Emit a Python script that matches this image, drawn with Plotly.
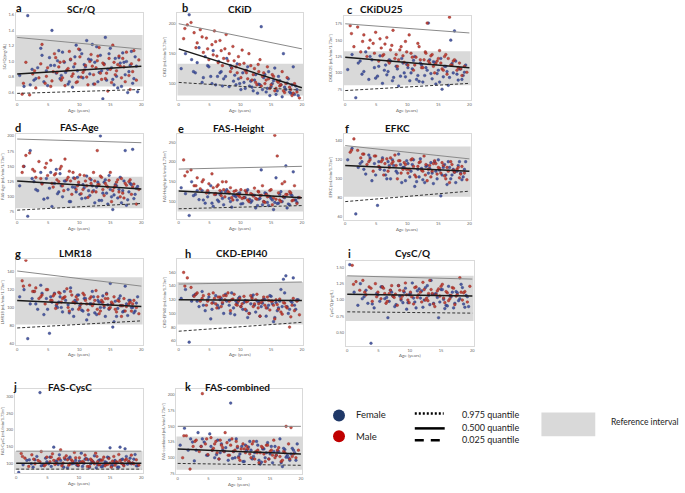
import plotly.graph_objects as go

# ---------------- data ----------------
age_female = [0.4,1.1,1.7,2.1,2.7,3.3,3.8,4.3,4.7,5.2,5.6,6.0,6.5,6.9,7.3,7.8,8.2,8.6,9.1,9.5,
              9.9,10.4,10.8,11.2,11.7,12.1,12.5,13.0,13.4,13.8,14.2,14.6,15.0,15.4,15.8,16.2,16.6,17.0,17.4,17.8,
              18.2,18.6,19.0,19.4,6.3,8.9,11.5,13.6,15.6,17.6,
              2.4,3.0,4.0,4.9,5.4,6.7,7.1,7.6,8.4,9.3,9.7,10.1,10.6,11.0,11.9,12.3,12.8,13.2,14.0,14.4,
              14.8,15.2,16.0,16.4,16.8,17.2,18.0,18.4,18.8,19.2]
age_male = [0.8,1.4,2.0,2.5,3.0,3.5,4.0,4.5,4.9,5.4,5.8,6.2,6.7,7.1,7.5,8.0,8.4,8.8,9.3,9.7,
            10.1,10.6,11.0,11.4,11.9,12.3,12.7,13.2,13.6,14.0,14.4,14.8,15.2,15.6,16.0,16.4,16.8,17.2,17.6,18.0,
            18.4,18.8,19.2,19.6,7.7,10.3,12.9,14.6,16.6,18.2,
            1.0,2.8,3.8,4.7,5.6,6.0,6.4,6.9,7.3,8.2,8.6,9.0,9.5,9.9,10.8,11.2,11.7,12.1,12.5,13.0,
            13.4,13.8,14.2,15.0,15.4,15.8,16.2,17.0,17.4,18.6]

scrq_female = [0.82,0.68,1.59,0.70,0.76,0.92,1.17,0.74,0.88,1.05,1.40,0.95,1.01,0.78,1.12,0.86,0.71,1.02,0.93,1.21,
               0.80,1.10,0.96,1.27,0.84,1.22,0.99,0.74,1.08,0.52,1.31,0.90,1.17,0.77,1.04,0.66,0.98,1.11,0.83,0.60,
               0.95,0.72,1.06,0.61,0.85,0.67,1.03,0.88,0.70,1.00,
               0.90,0.78,1.08,0.69,0.95,1.14,0.82,0.99,0.74,1.06,0.88,1.15,0.79,0.93,1.02,0.71,1.19,0.86,0.97,0.76,
               1.10,0.92,0.81,1.05,0.68,0.99,0.87,1.13,0.78,0.94]
scrq_male = [0.58,0.99,0.57,0.84,0.66,0.79,1.22,0.72,0.92,0.68,0.87,1.05,0.93,0.76,1.00,0.89,1.13,0.81,0.97,0.74,
             1.06,0.86,0.95,0.70,1.09,0.83,0.92,1.18,0.77,0.96,0.85,1.04,0.73,0.99,0.88,1.07,0.79,0.93,1.12,0.82,
             0.97,1.14,0.76,1.02,0.69,0.80,1.01,0.62,0.94,0.64,
             0.72,0.88,0.97,0.81,0.75,1.10,0.86,0.99,0.79,0.91,1.03,0.84,0.73,1.16,0.89,0.80,1.00,0.94,0.71,1.07,
             0.85,0.98,0.78,0.90,1.21,0.83,0.96,1.04,0.74,0.87]

ckid_female = [125,150,215,140,118,160,102,145,130,112,155,98,137,120,108,142,95,126,114,133,
               100,118,92,128,104,88,115,99,195,110,86,120,95,105,82,112,98,150,90,108,
               84,128,96,80,112,104,96,90,126,101,
               120,135,110,128,100,118,96,112,130,98,108,90,102,122,94,106,84,98,115,92,
               80,100,88,105,78,94,86,98,82,90]
ckid_male = [175,198,202,185,168,190,152,176,140,165,188,146,172,130,158,138,120,162,128,145,
             110,134,118,150,106,125,98,140,112,100,128,92,115,88,104,96,120,85,110,94,
             80,100,86,76,182,156,132,108,98,90,
             192,160,178,158,148,170,135,155,142,150,126,138,118,132,122,108,130,115,102,120,
             96,118,106,98,112,92,102,88,100,84]

ckidu25_female = [105,128,62,115,98,132,90,120,108,95,126,84,112,102,118,93,110,80,122,100,
                  113,88,106,125,96,115,86,108,176,99,117,83,104,122,94,110,81,150,100,118,
                  89,106,96,112,104,95,90,120,75,164,
                  118,102,125,92,110,97,120,88,106,115,94,108,100,119,87,112,96,104,91,116,
                  99,86,110,102,93,114,98,106,90,101]
ckidu25_male = [172,140,170,132,158,125,150,145,162,118,138,128,154,115,142,122,110,135,126,148,
                112,130,104,124,140,108,120,176,115,128,100,118,134,106,125,98,185,112,120,104,
                115,96,110,101,165,158,132,114,122,108,
                160,148,138,130,152,126,144,118,135,128,120,140,116,132,124,112,145,120,108,130,
                118,126,110,122,115,104,128,112,118,106]

fasage_female = [118,150,68,176,125,110,140,96,130,114,84,122,105,138,100,126,112,92,131,108,
                 120,97,115,134,102,118,90,124,200,106,128,88,112,79,120,98,132,110,176,95,
                 122,178,104,117,145,116,110,94,103,86,
                 130,112,122,98,140,108,118,126,92,115,132,104,120,98,128,110,116,94,124,106,
                 135,100,118,112,90,126,108,120,97,114]
fasage_male = [140,168,172,145,132,158,121,148,135,160,116,138,125,150,110,128,142,104,130,118,
               136,112,126,99,122,140,108,120,132,102,118,127,92,115,124,108,130,98,119,125,
               104,121,88,112,162,105,176,116,100,128,
               150,142,130,155,122,136,128,146,118,132,126,140,112,124,135,118,130,108,126,120,
               134,112,122,140,110,118,128,106,122,116]

fasheight_female = [135,120,65,150,118,105,128,96,112,140,88,118,100,125,92,130,108,86,115,104,
                    122,95,110,130,98,116,84,106,180,100,120,90,108,80,160,96,125,112,190,94,
                    118,175,104,110,104,116,106,92,98,84,
                    115,128,104,122,96,118,108,125,100,112,120,94,110,126,102,116,90,108,122,98,
                    112,104,95,118,100,110,92,115,104,98]
fasheight_male = [205,175,180,140,160,132,155,122,145,170,118,138,128,150,112,125,135,104,128,116,
                  130,110,122,100,118,134,106,115,140,98,112,128,92,267,215,104,145,150,118,125,
                  102,140,95,110,150,108,126,114,100,122,
                  165,140,150,128,135,120,142,115,130,122,110,126,118,112,128,104,120,114,108,124,
                  116,100,118,130,110,106,122,112,118,104]

efkc_female = [120,132,63,112,118,105,125,98,116,72,110,122,104,118,100,114,108,126,96,112,
               119,102,115,92,110,121,99,113,106,117,95,108,120,82,112,104,118,100,110,96,
               114,106,102,118,109,115,97,111,104,107,
               116,110,122,104,118,100,114,120,106,112,98,116,108,120,102,111,96,114,106,118,
               100,109,115,94,112,104,108,118,99,110]
efkc_male = [128,142,130,122,126,115,120,108,124,113,118,104,121,112,116,125,100,119,110,115,
             106,120,113,102,117,109,124,98,114,108,119,105,111,117,103,112,96,115,107,110,
             101,113,106,99,118,110,104,116,108,112,
             130,126,118,124,112,120,116,108,122,114,119,106,117,110,121,104,113,118,108,115,
             110,102,116,112,106,114,100,118,109,105]

lmr18_female = [112,120,65,104,118,98,125,92,110,71,106,116,100,112,95,108,103,122,90,106,
                114,97,110,86,104,118,94,108,100,113,90,103,127,78,107,99,113,95,124,91,
                108,100,96,112,102,98,92,106,84,104,
                110,104,116,98,112,106,100,118,94,108,114,102,96,110,104,112,92,106,100,116,
                98,104,90,110,102,96,108,100,94,105]
lmr18_male = [130,153,125,118,122,110,114,104,120,108,113,99,117,106,111,121,96,114,105,109,
              100,116,108,97,112,104,119,93,108,102,115,99,106,112,95,107,90,110,101,104,
              96,108,100,93,112,104,98,110,102,106,
              124,118,112,120,108,115,104,116,110,100,118,106,112,98,114,104,110,102,108,112,
              96,106,110,100,104,98,108,102,96,104]

ckdepi40_female = [122,135,58,118,128,110,132,104,120,92,116,126,108,122,100,118,112,130,98,115,
                   124,106,119,94,114,127,102,117,110,121,96,112,125,88,116,108,135,150,155,100,
                   118,152,106,120,112,108,100,115,94,110,
                   126,118,112,124,106,120,114,128,100,118,122,110,116,104,124,112,118,96,120,108,
                   126,114,104,118,110,130,106,116,112,120]
ckdepi40_male = [160,152,138,125,130,118,126,112,128,115,122,108,124,116,120,130,104,121,113,118,
                 110,125,117,100,122,114,128,96,119,112,124,105,118,92,113,121,99,115,108,80,
                 112,104,118,98,126,114,108,119,102,95,
                 140,128,122,118,130,114,124,110,126,118,120,128,112,122,106,118,126,110,120,114,
                 116,124,108,118,112,120,106,116,110,122]

cysc_female = [1.54,1.12,0.92,1.25,1.05,0.95,0.34,0.88,1.10,0.98,1.20,1.02,0.73,1.15,1.06,0.93,1.22,1.00,1.12,0.86,
               1.08,1.26,0.97,1.14,1.03,0.89,1.19,1.07,1.30,0.95,1.10,0.73,1.16,1.01,0.92,1.21,1.05,0.88,1.13,0.99,
               1.24,0.94,1.07,0.90,1.04,0.96,1.17,1.09,0.87,1.11,
               1.02,1.15,0.94,1.08,1.20,0.98,1.12,0.90,1.06,1.18,0.96,1.10,1.03,0.88,1.14,1.00,1.22,0.93,1.09,1.04,
               0.97,1.16,0.91,1.07,1.12,0.95,1.02,1.19,0.89,1.05]
cysc_male = [1.53,1.28,1.15,1.30,1.08,1.20,0.98,1.25,1.12,1.02,1.18,0.95,1.10,1.22,1.04,0.92,1.15,1.06,1.26,1.00,
             1.12,0.94,1.20,1.08,0.97,1.16,1.03,1.30,1.10,0.90,1.14,1.06,1.24,0.96,1.11,1.02,1.19,0.93,1.08,1.34,
             1.00,1.13,0.97,1.21,1.09,1.05,0.99,1.17,1.07,1.12,
             1.24,1.12,1.18,1.05,1.20,1.10,0.98,1.15,1.06,1.22,1.02,1.14,1.08,0.96,1.19,1.04,1.12,1.27,1.00,1.10,
             1.16,0.94,1.08,1.21,1.03,1.13,0.99,1.18,1.06,1.11]

fascysc_female = [72,95,108,110,88,120,312,94,115,98,90,148,105,125,96,112,86,118,100,108,
                  92,130,99,114,87,106,122,95,110,90,104,118,146,93,108,88,148,112,143,97,
                  115,100,126,92,106,98,110,89,104,120,
                  98,110,92,104,118,96,108,88,114,100,94,106,90,112,98,104,86,108,96,102,
                  116,92,100,88,110,95,104,98,112,92]
fascysc_male = [129,115,90,125,98,108,135,92,118,104,128,96,112,140,100,122,94,110,132,99,
                116,105,124,90,112,102,130,95,108,118,97,114,88,120,104,126,100,92,112,106,
                124,98,110,94,116,102,120,96,108,100,
                120,112,104,96,118,108,100,114,92,110,98,106,116,94,102,112,90,108,98,104,
                96,110,92,100,106,94,102,98,108,100]

fascomb_female = [120,147,112,130,95,140,118,125,104,138,112,100,128,108,112,116,96,187,110,130,
                  102,118,94,112,126,98,108,120,90,114,100,124,106,92,118,110,130,86,113,104,
                  96,115,108,122,105,99,117,93,110,101,
                  125,112,130,104,118,98,122,110,128,100,116,106,94,120,112,102,126,96,114,108,
                  98,118,104,110,92,115,100,106,112,96]
fascomb_male = [100,135,82,118,128,110,202,122,105,132,115,126,98,120,110,124,104,130,112,118,
                96,122,108,114,100,126,110,92,118,106,120,98,112,128,104,116,94,110,150,122,
                148,106,100,112,140,114,108,120,102,98,
                135,126,118,130,112,122,108,128,116,104,120,110,126,100,114,118,106,122,98,112,
                108,116,94,110,104,100,112,96,108,102]

panel_letters = ["a","b","c","d","e","f","g","h","i","j","k"]
panel_titles = ["SCr/Q","CKiD","CKiDU25","FAS-Age","FAS-Height","EFKC","LMR18","CKD-EPI40","CysC/Q","FAS-CysC","FAS-combined"]
y_titles = ["SCr/Q [mg/dL]","CKiD [mL/min/1.73m²]","CKiDU25 [mL/min/1.73m²]","FAS-Age [mL/min/1.73m²]",
            "FAS-Height [mL/min/1.73m²]","EFKC [mL/min/1.73m²]","LMR18 [mL/min/1.73m²]","CKD-EPI40 [mL/min/1.73m²]",
            "CysC/Q [mg/L]","FAS-CysC [mL/min/1.73m²]","FAS-combined [mL/min/1.73m²]"]
x_title = "Age (years)"
female_series = [scrq_female, ckid_female, ckidu25_female, fasage_female, fasheight_female, efkc_female,
                 lmr18_female, ckdepi40_female, cysc_female, fascysc_female, fascomb_female]
male_series = [scrq_male, ckid_male, ckidu25_male, fasage_male, fasheight_male, efkc_male,
               lmr18_male, ckdepi40_male, cysc_male, fascysc_male, fascomb_male]

quantile_age = [0, 20]
q975_values = [[1.31,1.16],[200,158],[175,161],[195,189],[182,189],[135,121],[141,124],[143,146],[1.37,1.32],[136,136],[150,150]]
q500_values = [[0.84,0.94],[158,93],[124,108],[126,113],[127,110],[114,108],[108,101],[120,119],[1.09,1.06],[100,100],[114,106]]
q025_values = [[0.59,0.64],[102,89],[73,84],[78,89],[82,90],[76,87],[77,85],[74,87],[0.82,0.80],[82,82],[91,88]]
ref_low = [0.68, 80, 81, 81, 75, 81, 81, 84, 0.68, 79, 81]
ref_high = [1.34, 133, 133, 133, 130, 134, 134, 146, 1.37, 136, 134]

y_ranges = [[0.5,1.625],[72,218],[58,187],[64,203],[57,270],[57,147],[58,154],[54,179],[0.30,1.59],[70,324],[74,210]]
y_tickvals = [[0.6,0.8,1.0,1.2,1.4,1.6],[100,150,200],[75,100,125,150,175],[75,100,125,150,175,200],
              [100,150,200,250],[60,80,100,120,140],[60,80,100,120,140],[60,80,100,120,140,160],
              [0.5,0.75,1.0,1.25,1.5],[100,150,200,250,300],[75,100,125,150,175,200]]
y_ticktext = [["0.6","0.8","1.0","1.2","1.4","1.6"],None,None,None,None,None,None,None,
              ["0.50","0.75","1.00","1.25","1.50"],None,None]
x_ticks = [0, 5, 10, 15, 20]

# ---------------- layout geometry (pixels) ----------------
W, H = 685, 493
def fx(px):
    return px / W
def fy(py):
    return 1 - py / H

frames = [(16,143,12,100),(178,304,12,100),(345,472,15,100),
          (16,143,134,219),(178,304,134,219),(345,472,134,220),
          (16,143,260,346),(178,304,260,346),(347,475,262,347),
          (15,143,390,475),(177,303,390,476)]
title_pos = [(82,8),(241,8),(383,8),(80,127),(240,128),(399,128),(76,254),(243,254),(414,254),(70,388),(238,388)]
letter_pos = [(19,7),(186,7),(351,9),(18,127),(182,128),(348,128),(18,254),(189,254),(351,254),(15,388),(189,388)]

BLUE = "#3e4f9f"
RED = "#c23b30"
FONT = "Lato, 'Open Sans', sans-serif"

fig = go.Figure()
layout = dict(width=W, height=H, margin=dict(l=0, r=0, t=0, b=0),
              paper_bgcolor="white", plot_bgcolor="white", showlegend=False,
              font=dict(family=FONT))
shapes = []
annotations = []

for i in range(11):
    n = i + 1
    sfx = "" if n == 1 else str(n)
    xa, ya = "x" + sfx, "y" + sfx
    x0, x1, yt, yb = frames[i]
    layout["xaxis" + sfx] = dict(domain=[fx(x0), fx(x1)], anchor=ya, range=[-0.2, 20.2],
                                 tickvals=x_ticks, showgrid=False, zeroline=False,
                                 showline=True, mirror=True, linecolor="#d9d9d9", linewidth=1,
                                 ticks="", tickfont=dict(size=4, color="#666"))
    yd = dict(domain=[fy(yb), fy(yt)], anchor=xa, range=y_ranges[i], tickvals=y_tickvals[i],
              showgrid=False, zeroline=False, showline=True, mirror=True, linecolor="#d9d9d9",
              linewidth=1, ticks="", tickfont=dict(size=4, color="#666"),
              title=dict(text=y_titles[i], font=dict(size=4, color="#666"), standoff=2))
    if y_ticktext[i] is not None:
        yd["ticktext"] = y_ticktext[i]
    layout["yaxis" + sfx] = yd

    shapes.append(dict(type="rect", xref=xa + " domain", yref=ya, x0=0, x1=1,
                       y0=ref_low[i], y1=ref_high[i], fillcolor="#d9d9d9",
                       line=dict(width=0), layer="below"))

    fig.add_trace(go.Scatter(x=age_female, y=female_series[i], mode="markers", xaxis=xa, yaxis=ya,
                             marker=dict(size=2.7, color=BLUE, opacity=0.9,
                                         line=dict(width=0.4, color="#24306b"))))
    fig.add_trace(go.Scatter(x=age_male, y=male_series[i], mode="markers", xaxis=xa, yaxis=ya,
                             marker=dict(size=2.7, color=RED, opacity=0.9,
                                         line=dict(width=0.4, color="#7d1d16"))))
    fig.add_trace(go.Scatter(x=quantile_age, y=q975_values[i], mode="lines", xaxis=xa, yaxis=ya,
                             line=dict(color="#8a8a8a", width=1)))
    fig.add_trace(go.Scatter(x=quantile_age, y=q500_values[i], mode="lines", xaxis=xa, yaxis=ya,
                             line=dict(color="#1a1a1a", width=1.5)))
    fig.add_trace(go.Scatter(x=quantile_age, y=q025_values[i], mode="lines", xaxis=xa, yaxis=ya,
                             line=dict(color="#333333", width=1, dash="3px,2px")))

    annotations.append(dict(text=x_title, x=fx((x0 + x1) / 2), y=fy(yb + 10), xref="paper", yref="paper",
                            showarrow=False, xanchor="center", yanchor="middle",
                            font=dict(size=4.5, color="#666", family=FONT)))
    tx, ty = title_pos[i]
    annotations.append(dict(text=f"<b>{panel_titles[i]}</b>", x=fx(tx), y=fy(ty), xref="paper", yref="paper",
                            showarrow=False, xanchor="center", yanchor="middle",
                            font=dict(size=10, color="#111", family=FONT)))
    lx, ly = letter_pos[i]
    annotations.append(dict(text=f"<b>{panel_letters[i]}</b>", x=fx(lx), y=fy(ly), xref="paper", yref="paper",
                            showarrow=False, xanchor="center", yanchor="middle",
                            font=dict(size=11, color="#111", family=FONT)))

# ---------------- manual legend ----------------
shapes.append(dict(type="circle", xref="paper", yref="paper", x0=fx(334), x1=fx(346), y0=fy(423), y1=fy(411),
                   fillcolor="#1f3868", line=dict(color="#1f3868", width=0)))
shapes.append(dict(type="circle", xref="paper", yref="paper", x0=fx(334), x1=fx(346), y0=fy(444), y1=fy(432),
                   fillcolor="#c00000", line=dict(color="#c00000", width=0)))
shapes.append(dict(type="line", xref="paper", yref="paper", x0=fx(416), x1=fx(445), y0=fy(415), y1=fy(415),
                   line=dict(color="black", width=2.5, dash="2px,2px")))
shapes.append(dict(type="line", xref="paper", yref="paper", x0=fx(416), x1=fx(446), y0=fy(430), y1=fy(430),
                   line=dict(color="black", width=2.5)))
shapes.append(dict(type="line", xref="paper", yref="paper", x0=fx(416), x1=fx(443), y0=fy(442), y1=fy(442),
                   line=dict(color="black", width=2.5, dash="9px,7px")))
shapes.append(dict(type="rect", xref="paper", yref="paper", x0=fx(543), x1=fx(597), y0=fy(438), y1=fy(414),
                   fillcolor="#d9d9d9", line=dict(width=0)))

legend_texts = [("Female", 372, 416, 9.5), ("Male", 368, 438, 9.5), ("0.975 quantile", 492, 416, 9),
                ("0.500 quantile", 492, 429, 9), ("0.025 quantile", 492, 441, 9), ("Reference interval", 646, 424, 8.5)]
for t, px, py, fs in legend_texts:
    annotations.append(dict(text=t, x=fx(px), y=fy(py), xref="paper", yref="paper", showarrow=False,
                            xanchor="center", yanchor="middle", font=dict(size=fs, color="#222", family=FONT)))

layout["shapes"] = shapes
layout["annotations"] = annotations
fig.update_layout(**layout)
# remove the browser's default 8px page margin so the figure sits at the page origin
fig.write_html("out.html", config={"displayModeBar": False},
               post_script="document.body.style.margin='0';document.body.style.overflow='hidden';")
